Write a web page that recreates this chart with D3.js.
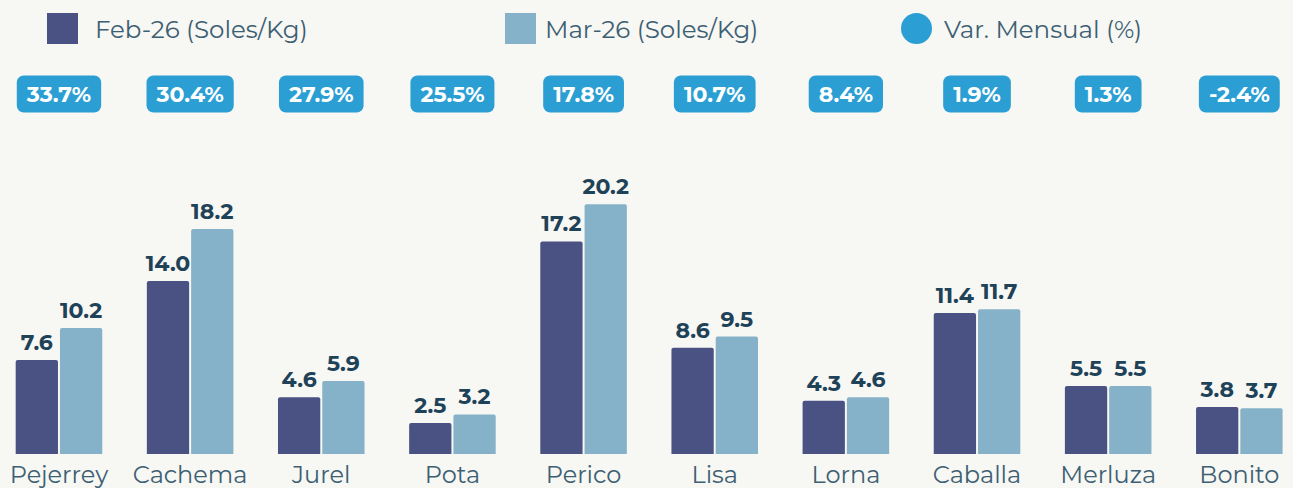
<!DOCTYPE html>
<html>
<head>
<meta charset="utf-8">
<script src="https://cdn.jsdelivr.net/npm/d3@7"></script>
<style>
  html, body { margin: 0; padding: 0; background: #f7f7f3; }
  svg { display: block; font-family: Montserrat, Inter, 'Noto Sans', sans-serif; }
</style>
</head>
<body>
<div class="canvas"></div>
<script>
'use strict';

var SPECIES = ['Pejerrey', 'Cachema', 'Jurel', 'Pota', 'Perico', 'Lisa', 'Lorna', 'Caballa', 'Merluza', 'Bonito'];
var FEB_26 = [7.6, 14.0, 4.6, 2.5, 17.2, 8.6, 4.3, 11.4, 5.5, 3.8];
var MAR_26 = [10.2, 18.2, 5.9, 3.2, 20.2, 9.5, 4.6, 11.7, 5.5, 3.7];
var VAR_MENSUAL = [33.7, 30.4, 27.9, 25.5, 17.8, 10.7, 8.4, 1.9, 1.3, -2.4];
var SERIES_NAMES = ['Feb-26 (Soles/Kg)', 'Mar-26 (Soles/Kg)', 'Var. Mensual (%)'];

var WIDTH = 1293;
var HEIGHT = 488;
var BAR_COLOR = ['#4a5283', '#86b2c9'];
var PILL_COLOR = '#2b9fd3';
var LABEL_COLOR = '#1e4258';
var TEXT_COLOR = '#3d5f73';

var svg = d3.select('.canvas').append('svg')
  .attr('width', WIDTH)
  .attr('height', HEIGHT);

svg.append('rect')
  .attr('width', WIDTH)
  .attr('height', HEIGHT)
  .attr('fill', '#f7f7f3');

var rows = SPECIES.map(function(name, i) {
  return { name: name, values: [FEB_26[i], MAR_26[i]], change: VAR_MENSUAL[i] };
});

var x0 = d3.scaleBand()
  .domain(SPECIES)
  .range([-6.6, 1304.9])
  .paddingInner(0.34)
  .paddingOuter(0.17);

var x1 = d3.scaleBand()
  .domain([0, 1])
  .range([0, x0.bandwidth()])
  .paddingInner(0.045);

var y = d3.scaleLinear()
  .domain([0, 20.2])
  .range([454, 204.3]);

// bars
var groups = svg.selectAll('g.group')
  .data(rows)
  .enter()
  .append('g')
  .classed('group', true)
  .attr('transform', function(d) { return 'translate(' + x0(d.name) + ',0)'; });

groups.selectAll('path.bar')
  .data(function(d) { return d.values; })
  .enter()
  .append('path')
  .classed('bar', true)
  .attr('d', function(v, i) {
    var left = x1(i), w = x1.bandwidth(), top = y(v), bottom = y(0), r = 2;
    return 'M' + left + ',' + bottom +
      'V' + (top + r) + 'Q' + left + ',' + top + ' ' + (left + r) + ',' + top +
      'H' + (left + w - r) + 'Q' + (left + w) + ',' + top + ' ' + (left + w) + ',' + (top + r) +
      'V' + bottom + 'Z';
  })
  .style('fill', function(v, i) { return BAR_COLOR[i]; });

// value labels
groups.selectAll('text.value')
  .data(function(d) { return d.values; })
  .enter()
  .append('text')
  .classed('value', true)
  .attr('x', function(v, i) { return x1(i) + x1.bandwidth() / 2; })
  .attr('y', function(v) { return y(v) - 10; })
  .attr('text-anchor', 'middle')
  .style('font-size', '22px')
  .style('font-weight', 700)
  .style('fill', LABEL_COLOR)
  .text(function(v) { return v.toFixed(1); });

// category labels
svg.append('g')
  .attr('transform', 'translate(0,454)')
  .call(d3.axisBottom(x0).tickSize(0).tickPadding(11.5))
  .call(function(g) { g.select('.domain').remove(); })
  .selectAll('text')
  .style('font-family', 'Montserrat, Inter, "Noto Sans", sans-serif')
  .style('font-size', '24px')
  .style('fill', TEXT_COLOR);

// monthly change pills
var pills = svg.selectAll('g.pill')
  .data(rows)
  .enter()
  .append('g')
  .classed('pill', true)
  .attr('transform', function(d) { return 'translate(' + (x0(d.name) + x0.bandwidth() / 2) + ',94)'; });

pills.append('text')
  .attr('text-anchor', 'middle')
  .attr('dy', '0.36em')
  .style('font-size', '22px')
  .style('font-weight', 700)
  .style('fill', 'white')
  .text(function(d) { return d.change.toFixed(1) + '%'; });

pills.each(function() {
  var g = d3.select(this);
  var w = g.select('text').node().getComputedTextLength() + 20;
  g.insert('rect', 'text')
    .attr('x', -w / 2)
    .attr('y', -18.5)
    .attr('width', w)
    .attr('height', 37)
    .attr('rx', 7)
    .style('fill', PILL_COLOR);
});

// legend
var legend = svg.append('g').classed('legend', true);
var legendX = [47, 505, 901];

SERIES_NAMES.forEach(function(name, i) {
  var item = legend.append('g').attr('transform', 'translate(' + legendX[i] + ',13)');
  if (i < 2) {
    item.append('rect')
      .attr('width', 31)
      .attr('height', 31)
      .style('fill', BAR_COLOR[i]);
  } else {
    item.append('circle')
      .attr('cx', 15.5)
      .attr('cy', 15.5)
      .attr('r', 15.5)
      .style('fill', PILL_COLOR);
  }
  item.append('text')
    .attr('x', i === 1 ? 40 : (i === 2 ? 43 : 48))
    .attr('y', 25)
    .style('font-size', '24.5px')
    .style('fill', TEXT_COLOR)
    .text(name);
});
</script>
</body>
</html>
